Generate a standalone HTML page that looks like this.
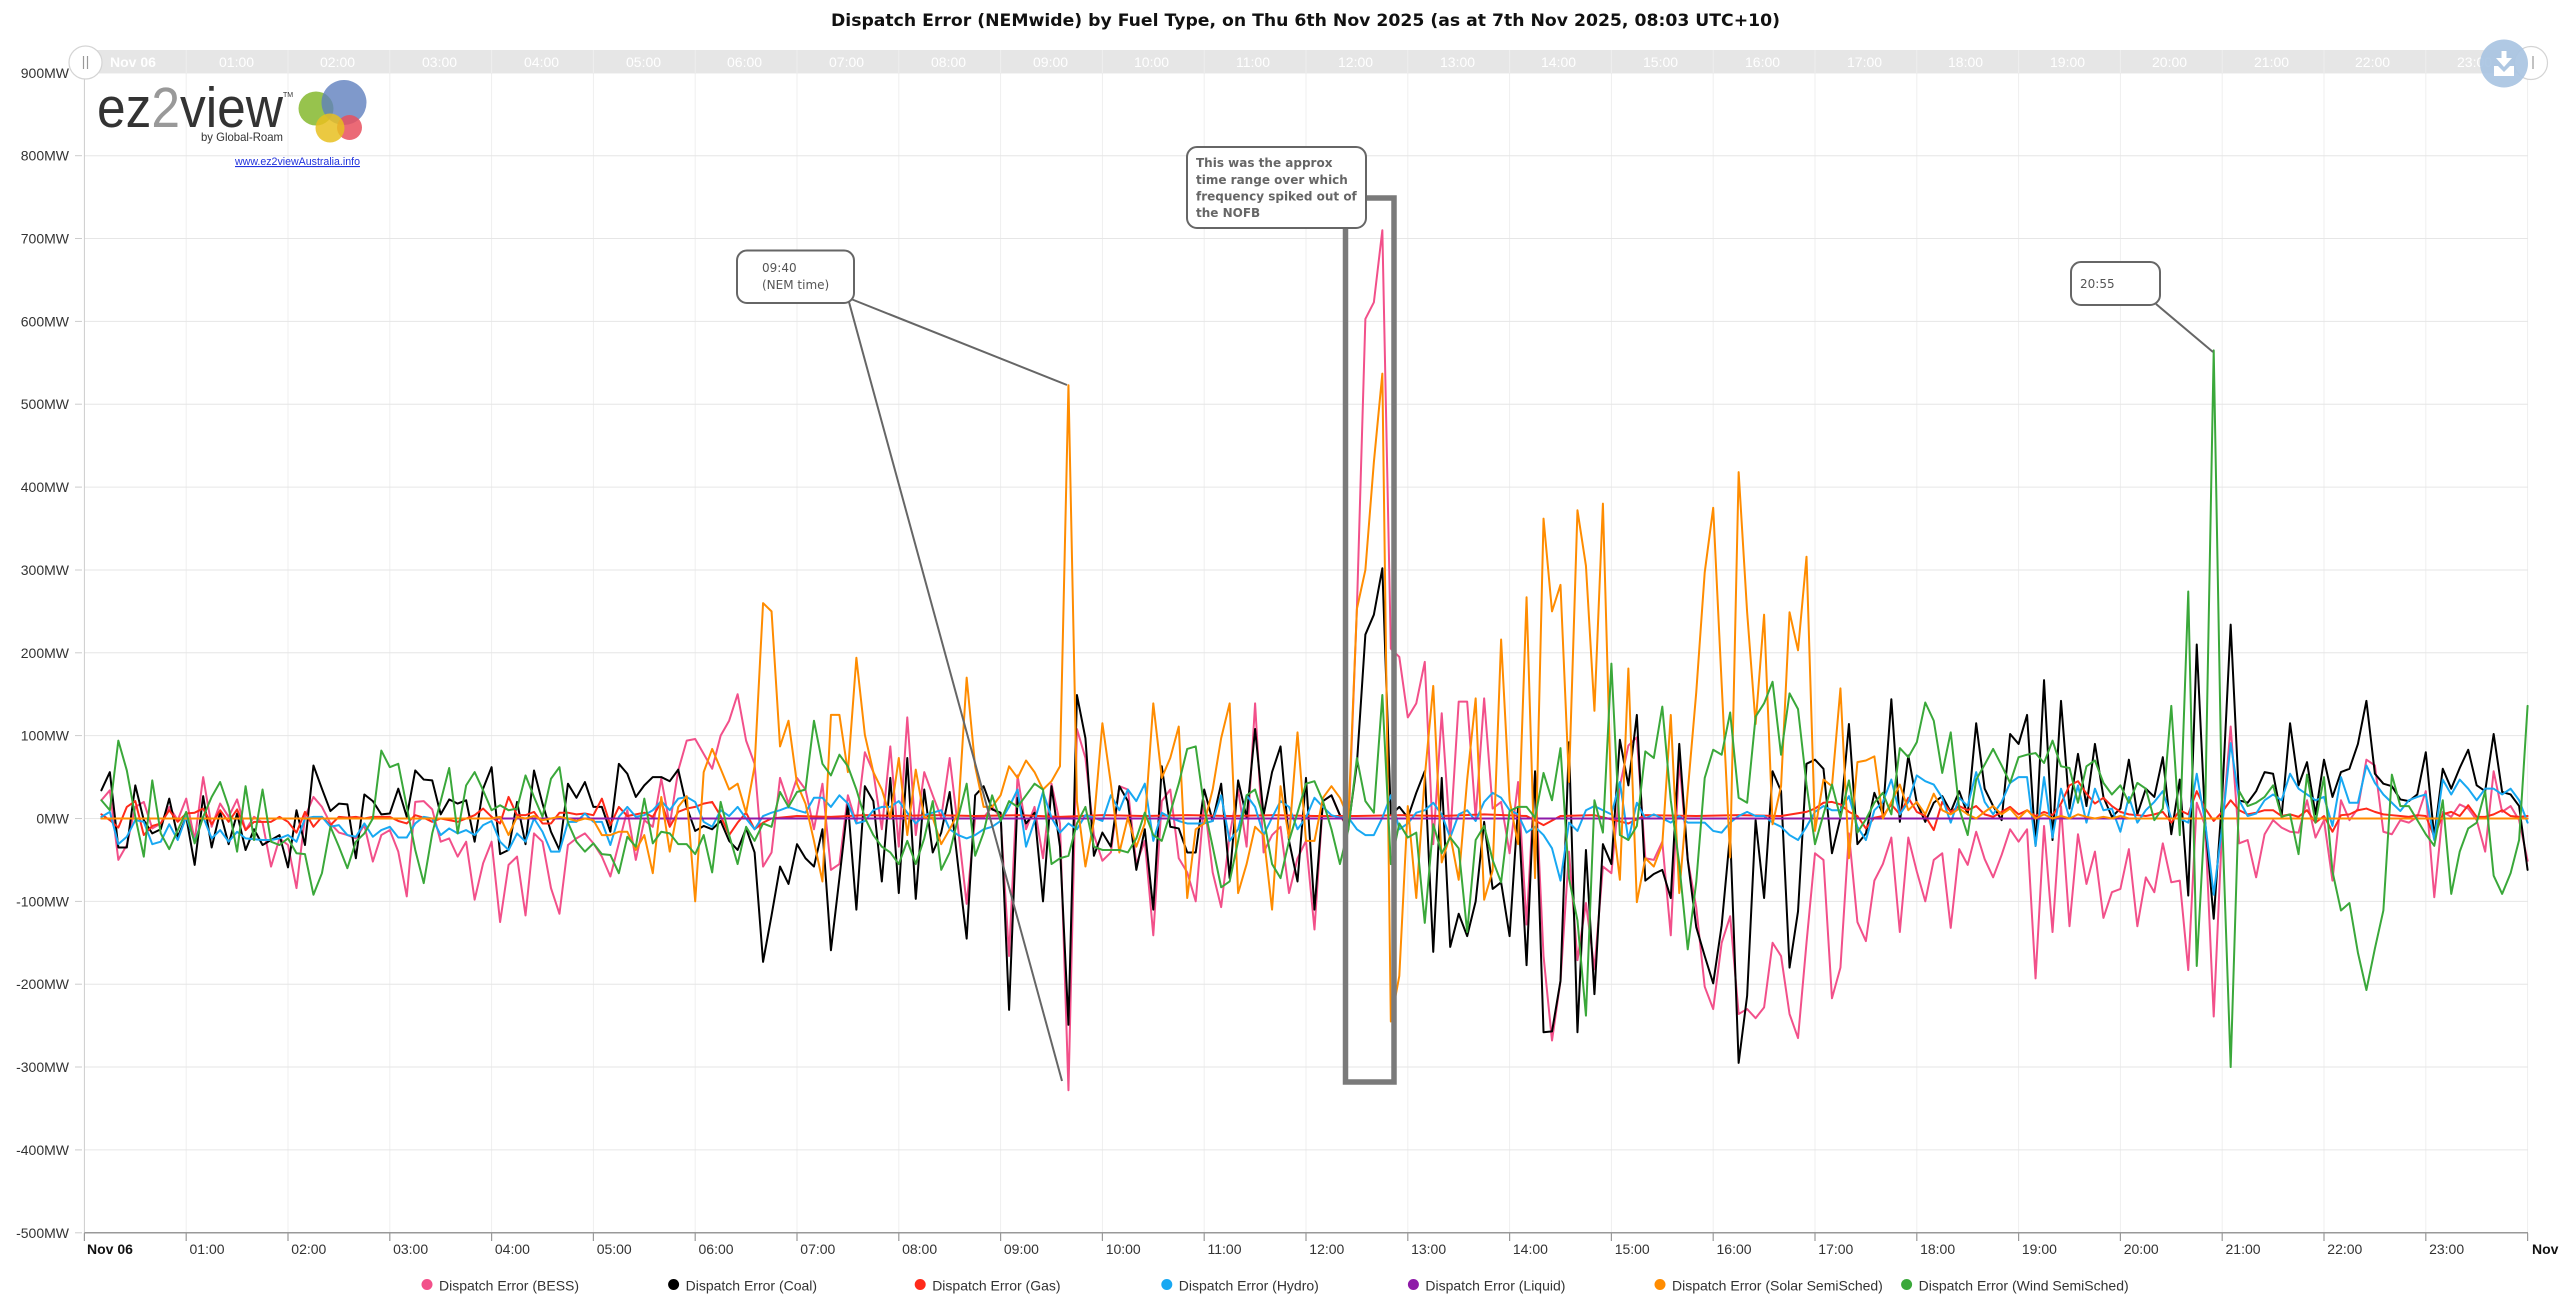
<!DOCTYPE html>
<html>
<head>
<meta charset="utf-8">
<style>
html,body{margin:0;padding:0;background:#fff;}
body{width:2560px;height:1309px;overflow:hidden;}
svg{display:block;}
.ax{font-family:"Liberation Sans",Arial,sans-serif;font-size:14px;fill:#333;}
.top{font-family:"Liberation Sans",Arial,sans-serif;font-size:14px;fill:#fff;}
.s{fill:none;stroke-width:2;stroke-linejoin:round;stroke-linecap:round;}
</style>
</head>
<body>
<svg width="2560" height="1309" viewBox="0 0 2560 1309" xmlns="http://www.w3.org/2000/svg">
<rect x="0" y="0" width="2560" height="1309" fill="#fff"/>

<!-- Title -->
<text x="831" y="26" font-family="DejaVu Sans, Liberation Sans, sans-serif" font-weight="bold" font-size="17" fill="#111" textLength="949" lengthAdjust="spacingAndGlyphs">Dispatch Error (NEMwide) by Fuel Type, on Thu 6th Nov 2025 (as at 7th Nov 2025, 08:03 UTC+10)</text>

<!-- vertical grid -->
<g stroke="#efefef" stroke-width="1">
<line x1="186.2" y1="73" x2="186.2" y2="1233"/><line x1="288" y1="73" x2="288" y2="1233"/><line x1="389.8" y1="73" x2="389.8" y2="1233"/><line x1="491.6" y1="73" x2="491.6" y2="1233"/><line x1="593.4" y1="73" x2="593.4" y2="1233"/><line x1="695.2" y1="73" x2="695.2" y2="1233"/><line x1="797" y1="73" x2="797" y2="1233"/><line x1="898.8" y1="73" x2="898.8" y2="1233"/><line x1="1000.6" y1="73" x2="1000.6" y2="1233"/><line x1="1102.4" y1="73" x2="1102.4" y2="1233"/><line x1="1204.2" y1="73" x2="1204.2" y2="1233"/><line x1="1306" y1="73" x2="1306" y2="1233"/><line x1="1407.8" y1="73" x2="1407.8" y2="1233"/><line x1="1509.6" y1="73" x2="1509.6" y2="1233"/><line x1="1611.4" y1="73" x2="1611.4" y2="1233"/><line x1="1713.2" y1="73" x2="1713.2" y2="1233"/><line x1="1815" y1="73" x2="1815" y2="1233"/><line x1="1916.8" y1="73" x2="1916.8" y2="1233"/><line x1="2018.6" y1="73" x2="2018.6" y2="1233"/><line x1="2120.4" y1="73" x2="2120.4" y2="1233"/><line x1="2222.2" y1="73" x2="2222.2" y2="1233"/><line x1="2324" y1="73" x2="2324" y2="1233"/><line x1="2425.8" y1="73" x2="2425.8" y2="1233"/><line x1="2527.6" y1="73" x2="2527.6" y2="1233"/>
</g>
<!-- horizontal grid -->
<g stroke="#e6e6e6" stroke-width="1">
<line x1="84.4" y1="72.85" x2="2528" y2="72.85"/><line x1="84.4" y1="155.7" x2="2528" y2="155.7"/><line x1="84.4" y1="238.5" x2="2528" y2="238.5"/><line x1="84.4" y1="321.4" x2="2528" y2="321.4"/><line x1="84.4" y1="404.2" x2="2528" y2="404.2"/><line x1="84.4" y1="487.1" x2="2528" y2="487.1"/><line x1="84.4" y1="570" x2="2528" y2="570"/><line x1="84.4" y1="652.8" x2="2528" y2="652.8"/><line x1="84.4" y1="735.6" x2="2528" y2="735.6"/><line x1="84.4" y1="818.5" x2="2528" y2="818.5"/><line x1="84.4" y1="901.4" x2="2528" y2="901.4"/><line x1="84.4" y1="984.2" x2="2528" y2="984.2"/><line x1="84.4" y1="1067" x2="2528" y2="1067"/><line x1="84.4" y1="1149.9" x2="2528" y2="1149.9"/>
</g>
<!-- y ticks -->
<g stroke="#ccc" stroke-width="1">
<line x1="75" y1="72.85" x2="82" y2="72.85"/><line x1="75" y1="155.7" x2="82" y2="155.7"/><line x1="75" y1="238.5" x2="82" y2="238.5"/><line x1="75" y1="321.4" x2="82" y2="321.4"/><line x1="75" y1="404.2" x2="82" y2="404.2"/><line x1="75" y1="487.1" x2="82" y2="487.1"/><line x1="75" y1="570" x2="82" y2="570"/><line x1="75" y1="652.8" x2="82" y2="652.8"/><line x1="75" y1="735.6" x2="82" y2="735.6"/><line x1="75" y1="818.5" x2="82" y2="818.5"/><line x1="75" y1="901.4" x2="82" y2="901.4"/><line x1="75" y1="984.2" x2="82" y2="984.2"/><line x1="75" y1="1067" x2="82" y2="1067"/><line x1="75" y1="1149.9" x2="82" y2="1149.9"/><line x1="75" y1="1232.8" x2="82" y2="1232.8"/>
</g>
<!-- y axis line -->
<line x1="84.4" y1="73" x2="84.4" y2="1233" stroke="#ccc" stroke-width="1"/>
<!-- y labels -->
<g class="ax" text-anchor="end">
<text x="69" y="77.8">900MW</text><text x="69" y="160.7">800MW</text><text x="69" y="243.5">700MW</text><text x="69" y="326.4">600MW</text><text x="69" y="409.2">500MW</text><text x="69" y="492.1">400MW</text><text x="69" y="575">300MW</text><text x="69" y="657.8">200MW</text><text x="69" y="740.6">100MW</text><text x="69" y="823.5">0MW</text><text x="69" y="906.4">-100MW</text><text x="69" y="989.2">-200MW</text><text x="69" y="1072">-300MW</text><text x="69" y="1154.9">-400MW</text><text x="69" y="1237.8">-500MW</text>
</g>

<!-- x axis -->
<line x1="84.4" y1="1232.8" x2="2528" y2="1232.8" stroke="#999" stroke-width="1.5"/>
<g stroke="#999" stroke-width="1.2">
<line x1="84.4" y1="1233" x2="84.4" y2="1241"/><line x1="186.2" y1="1233" x2="186.2" y2="1241"/><line x1="288" y1="1233" x2="288" y2="1241"/><line x1="389.8" y1="1233" x2="389.8" y2="1241"/><line x1="491.6" y1="1233" x2="491.6" y2="1241"/><line x1="593.4" y1="1233" x2="593.4" y2="1241"/><line x1="695.2" y1="1233" x2="695.2" y2="1241"/><line x1="797" y1="1233" x2="797" y2="1241"/><line x1="898.8" y1="1233" x2="898.8" y2="1241"/><line x1="1000.6" y1="1233" x2="1000.6" y2="1241"/><line x1="1102.4" y1="1233" x2="1102.4" y2="1241"/><line x1="1204.2" y1="1233" x2="1204.2" y2="1241"/><line x1="1306" y1="1233" x2="1306" y2="1241"/><line x1="1407.8" y1="1233" x2="1407.8" y2="1241"/><line x1="1509.6" y1="1233" x2="1509.6" y2="1241"/><line x1="1611.4" y1="1233" x2="1611.4" y2="1241"/><line x1="1713.2" y1="1233" x2="1713.2" y2="1241"/><line x1="1815" y1="1233" x2="1815" y2="1241"/><line x1="1916.8" y1="1233" x2="1916.8" y2="1241"/><line x1="2018.6" y1="1233" x2="2018.6" y2="1241"/><line x1="2120.4" y1="1233" x2="2120.4" y2="1241"/><line x1="2222.2" y1="1233" x2="2222.2" y2="1241"/><line x1="2324" y1="1233" x2="2324" y2="1241"/><line x1="2425.8" y1="1233" x2="2425.8" y2="1241"/><line x1="2527.6" y1="1233" x2="2527.6" y2="1241"/>
</g>
<g class="ax">
<text x="87" y="1254" font-weight="bold" fill="#111">Nov 06</text>
<text x="189.5" y="1254">01:00</text><text x="291.3" y="1254">02:00</text><text x="393.1" y="1254">03:00</text><text x="494.9" y="1254">04:00</text><text x="596.7" y="1254">05:00</text><text x="698.5" y="1254">06:00</text><text x="800.3" y="1254">07:00</text><text x="902.1" y="1254">08:00</text><text x="1003.9" y="1254">09:00</text><text x="1105.7" y="1254">10:00</text><text x="1207.5" y="1254">11:00</text><text x="1309.3" y="1254">12:00</text><text x="1411.1" y="1254">13:00</text><text x="1512.9" y="1254">14:00</text><text x="1614.7" y="1254">15:00</text><text x="1716.5" y="1254">16:00</text><text x="1818.3" y="1254">17:00</text><text x="1920.1" y="1254">18:00</text><text x="2021.9" y="1254">19:00</text><text x="2123.7" y="1254">20:00</text><text x="2225.5" y="1254">21:00</text><text x="2327.3" y="1254">22:00</text><text x="2429.1" y="1254">23:00</text>
<text x="2532" y="1254" font-weight="bold" fill="#111">Nov 07</text>
</g>

<!-- top navigator band -->
<rect x="84.4" y="50" width="2443.6" height="23.3" fill="#e6e6e6"/>
<g stroke="#efefef" stroke-width="1">
<line x1="186.2" y1="50" x2="186.2" y2="73"/><line x1="288" y1="50" x2="288" y2="73"/><line x1="389.8" y1="50" x2="389.8" y2="73"/><line x1="491.6" y1="50" x2="491.6" y2="73"/><line x1="593.4" y1="50" x2="593.4" y2="73"/><line x1="695.2" y1="50" x2="695.2" y2="73"/><line x1="797" y1="50" x2="797" y2="73"/><line x1="898.8" y1="50" x2="898.8" y2="73"/><line x1="1000.6" y1="50" x2="1000.6" y2="73"/><line x1="1102.4" y1="50" x2="1102.4" y2="73"/><line x1="1204.2" y1="50" x2="1204.2" y2="73"/><line x1="1306" y1="50" x2="1306" y2="73"/><line x1="1407.8" y1="50" x2="1407.8" y2="73"/><line x1="1509.6" y1="50" x2="1509.6" y2="73"/><line x1="1611.4" y1="50" x2="1611.4" y2="73"/><line x1="1713.2" y1="50" x2="1713.2" y2="73"/><line x1="1815" y1="50" x2="1815" y2="73"/><line x1="1916.8" y1="50" x2="1916.8" y2="73"/><line x1="2018.6" y1="50" x2="2018.6" y2="73"/><line x1="2120.4" y1="50" x2="2120.4" y2="73"/><line x1="2222.2" y1="50" x2="2222.2" y2="73"/><line x1="2324" y1="50" x2="2324" y2="73"/><line x1="2425.8" y1="50" x2="2425.8" y2="73"/>
</g>
<g class="top">
<text x="110" y="67" font-weight="bold">Nov 06</text>
<text x="219" y="67">01:00</text><text x="320" y="67">02:00</text><text x="422" y="67">03:00</text><text x="524" y="67">04:00</text><text x="626" y="67">05:00</text><text x="727" y="67">06:00</text><text x="829" y="67">07:00</text><text x="931" y="67">08:00</text><text x="1033" y="67">09:00</text><text x="1134" y="67">10:00</text><text x="1236" y="67">11:00</text><text x="1338" y="67">12:00</text><text x="1440" y="67">13:00</text><text x="1541" y="67">14:00</text><text x="1643" y="67">15:00</text><text x="1745" y="67">16:00</text><text x="1847" y="67">17:00</text><text x="1948" y="67">18:00</text><text x="2050" y="67">19:00</text><text x="2152" y="67">20:00</text><text x="2254" y="67">21:00</text><text x="2355" y="67">22:00</text><text x="2457" y="67">23:00</text>
</g>

<!-- logo -->
<g>
<text x="97" y="127" font-family="Liberation Sans, Arial, sans-serif" font-size="57" fill="#333" textLength="186" lengthAdjust="spacingAndGlyphs">ez<tspan fill="#999">2</tspan>view</text>
<text x="283" y="97" font-family="Liberation Sans, Arial, sans-serif" font-size="7" fill="#333">TM</text>
<text x="201" y="141" font-family="Liberation Sans, Arial, sans-serif" font-size="12" fill="#333" textLength="82" lengthAdjust="spacingAndGlyphs">by Global-Roam</text>
<ellipse cx="316" cy="108.5" rx="17.5" ry="17" fill="#8cbd3a" opacity="0.9"/>
<circle cx="344" cy="102.5" r="22.5" fill="#5f7fbe" opacity="0.8"/>
<circle cx="349.5" cy="127.5" r="12.5" fill="#e8505e" opacity="0.85"/>
<circle cx="330" cy="128" r="14.5" fill="#e8c020" opacity="0.85"/>
<text x="235" y="165" font-family="Liberation Sans, Arial, sans-serif" font-size="11" fill="#2233dd" text-decoration="underline" textLength="125" lengthAdjust="spacingAndGlyphs">www.ez2viewAustralia.info</text>
</g>

<!-- series -->
<g transform="translate(84.4,818.5) scale(8.4833,-0.8285)">
<polyline class="s" vector-effect="non-scaling-stroke" stroke="#f2508a" points="2,22 3,34 4,-50 5,-32 6,14 7,20 8,-12 9,-6 10,14 11,-2 12,24 13,-26 14,50 15,-10 16,18 17,2 18,23 19,-14 20,2 21,-5 22,-58 23,-24 24,-32 25,-84 26,2 27,26 28,14 29,-6 30,-17 31,-20 32,-24 33,-8 34,-52 35,-20 36,-14 37,-40 38,-94 39,20 40,21 41,11 42,-28 43,-24 44,-46 45,-28 46,-98 47,-54 48,-28 49,-125 50,-56 51,-46 52,-117 53,-18 54,-28 55,-84 56,-115 57,-32 58,-24 59,-18 60,-30 61,-46 62,-70 63,-30 64,10 65,-50 66,-2 67,-10 68,48 69,-8 70,58 71,94 72,96 73,78 74,60 75,100 76,118 77,150 78,94 79,66 80,-58 81,-41 82,49 83,18 84,49 85,35 86,-13 87,42 88,-62 89,-55 90,28 91,-6 92,80 93,56 94,-13 95,87 96,-34 97,122 98,-20 99,56 100,28 101,1 102,73 103,-13 104,-103 105,1 106,1 107,14 108,1 109,-166 110,52 111,-13 112,14 113,-48 114,42 115,-6 116,-328 117,108 118,73 119,-20 120,-51 121,-41 122,39 123,35 124,-55 125,-27 126,-141 127,21 128,35 129,-48 130,-65 131,-100 132,21 133,-65 134,-107 135,-20 136,35 137,-34 138,139 139,-41 140,-20 141,-10 142,-90 143,-48 144,-27 145,-134 146,21 147,28 148,4 149,-13 150,253 151,603 152,623 153,710 154,205 155,195 156,122 157,139 158,189 159,-31 160,127 161,-23 162,141 163,141 164,1 165,145 166,12 167,20 168,-42 169,44 170,-128 171,55 172,-166 173,-268 174,-196 175,-40 176,-171 177,-102 178,-182 179,-58 180,-66 181,39 182,88 183,98 184,-48 185,-50 186,-28 187,-141 188,71 189,-50 190,-107 191,-203 192,-230 193,-150 194,-118 195,-236 196,-230 197,-241 198,-228 199,-150 200,-166 201,-236 202,-265 203,-150 204,-42 205,-50 206,-217 207,-180 208,-18 209,-125 210,-148 211,-75 212,-55 213,-23 214,-137 215,-23 216,-64 217,-100 218,-50 219,-42 220,-132 221,-37 222,-56 223,-16 224,-49 225,-71 226,-44 227,-13 228,-28 229,-13 230,-193 231,-9 232,-137 233,15 234,-130 235,-19 236,-79 237,-40 238,-120 239,-89 240,-85 241,-37 242,-130 243,-71 244,-89 245,-30 246,-77 247,-75 248,-183 249,19 250,-9 251,-239 252,-9 253,111 254,-30 255,-26 256,-71 257,-19 258,-2 259,-11 260,-16 261,-17 262,22 263,-23 264,-2 265,-75 266,22 267,-2 268,12 269,71 270,64 271,-16 272,-19 273,-2 274,-5 275,2 276,33 277,-95 278,8 279,2 280,17 281,12 282,-2 283,-40 284,57 285,8 286,15 287,-2 288,-51"/>
<polyline class="s" vector-effect="non-scaling-stroke" stroke="#000" stroke-width="2.2" points="2,34 3,56 4,-35 5,-35 6,40 7,-2 8,-18 9,-13 10,24 11,-22 12,2 13,-56 14,27 15,-35 16,8 17,-31 18,6 19,-38 20,-13 21,-32 22,-26 23,-20 24,-59 25,10 26,-32 27,64 28,36 29,9 30,18 31,17 32,-48 33,29 34,21 35,5 36,6 37,36 38,2 39,58 40,47 41,46 42,5 43,23 44,18 45,22 46,-28 47,36 48,62 49,-43 50,-38 51,20 52,-31 53,58 54,18 55,-16 56,-38 57,42 58,25 59,44 60,14 61,14 62,-16 63,66 64,54 65,26 66,40 67,50 68,50 69,45 70,59 71,14 72,-15 73,-9 74,-13 75,-3 76,-27 77,-38 78,-12 79,-41 80,-173 81,-117 82,-58 83,-79 84,-31 85,-48 86,-58 87,-13 88,-159 89,-72 90,18 91,-110 92,39 93,21 94,-76 95,49 96,-90 97,73 98,-97 99,35 100,-41 101,-17 102,32 103,-58 104,-145 105,28 106,39 107,11 108,7 109,-231 110,25 111,-6 112,7 113,-100 114,39 115,-34 116,-249 117,149 118,97 119,-45 120,-17 121,-34 122,39 123,21 124,-62 125,-13 126,-110 127,63 128,-10 129,-12 130,-41 131,-41 132,35 133,-3 134,42 135,-72 136,46 137,1 138,108 139,4 140,56 141,87 142,-27 143,-76 144,49 145,-110 146,21 147,28 148,4 149,-10 150,66 151,222 152,246 153,302 154,4 155,14 156,1 157,31 158,57 159,-161 160,49 161,-155 162,-115 163,-142 164,-100 165,-4 166,-85 167,-77 168,-142 169,14 170,-177 171,57 172,-258 173,-257 174,-196 175,92 176,-258 177,-38 178,-212 179,-31 180,-55 181,95 182,40 183,125 184,-75 185,-67 186,-62 187,-96 188,90 189,-50 190,-131 191,-166 192,-199 193,-129 194,-18 195,-295 196,-214 197,-2 198,-96 199,57 200,33 201,-180 202,-112 203,66 204,71 205,60 206,-42 207,1 208,114 209,-31 210,-18 211,31 212,5 213,144 214,-4 215,76 216,19 217,-4 218,19 219,27 220,8 221,33 222,5 223,115 224,36 225,15 226,-2 227,102 228,90 229,125 230,-33 231,167 232,-26 233,142 234,12 235,78 236,15 237,90 238,26 239,2 240,12 241,71 242,5 243,36 244,26 245,74 246,-19 247,47 248,-93 249,210 250,-5 251,-121 252,26 253,234 254,22 255,19 256,33 257,56 258,54 259,2 260,115 261,40 262,68 263,5 264,71 265,26 266,56 267,60 268,90 269,142 270,54 271,42 272,39 273,23 274,21 275,29 276,80 277,-22 278,60 279,36 280,61 281,83 282,40 283,33 284,102 285,32 286,29 287,15 288,-62"/>
<polyline class="s" vector-effect="non-scaling-stroke" stroke="#ff2a1a" points="2,5 3,-2 4,-11 5,14 6,21 7,-20 8,-9 9,-6 10,10 11,-4 12,6 13,7 14,12 15,-7 16,10 17,-4 18,11 19,-14 20,-4 21,-4 22,-4 23,2 24,-4 25,-17 26,8 27,-10 28,2 29,-8 30,2 31,1 32,2 33,0 34,2 35,2 36,2 37,-3 38,-6 39,4 40,1 41,-4 42,0 43,-2 44,-4 45,0 46,4 47,12 48,2 49,-6 50,26 51,4 52,4 53,8 54,-6 55,-6 56,7 57,7 58,5 59,6 60,4 61,24 62,-8 63,14 64,3 65,5 66,7 67,2 68,20 69,-10 70,8 71,12 72,14 73,18 74,20 75,3 76,-20 77,-5 78,7 79,-13 80,-5 81,0 84,3 88,2 92,4 96,3 100,4 105,3 110,4 115,2 120,4 125,3 130,4 135,3 140,4 145,3 150,3 155,4 160,3 165,5 170,3 172,-8 174,3 178,4 182,-6 184,4 190,3 195,4 200,3 203,8 204,12 205,19 206,20 207,17 208,8 209,3 210,-12 211,1 212,3 213,17 214,5 215,25 216,8 217,3 218,-14 219,20 220,8 221,15 222,10 223,15 224,5 225,2 226,8 227,14 228,5 229,10 230,3 231,8 232,4 233,18 234,40 235,45 236,30 237,18 238,25 239,15 240,8 241,5 242,4 243,3 244,5 245,8 246,-5 247,10 248,5 249,33 250,12 251,-3 252,8 253,22 254,10 255,5 256,7 257,10 258,10 259,3 260,5 261,2 262,10 263,-5 264,3 265,-16 266,4 267,5 268,10 269,12 270,8 271,5 272,4 273,3 274,2 275,4 276,3 277,-22 278,5 279,8 280,3 281,16 282,2 283,2 284,5 285,10 286,3 287,2 288,3"/>
<polyline class="s" vector-effect="non-scaling-stroke" stroke="#18a8f2" points="2,2 3,8 4,-31 5,-22 6,-2 7,-4 8,-31 9,-28 10,-7 11,-26 12,2 13,-28 14,2 15,-24 16,-14 17,-28 18,-16 19,-24 20,-25 21,-26 22,-26 23,-24 24,-20 25,-28 26,0 27,2 28,2 29,-10 30,-8 31,-20 32,-22 33,-6 34,-22 35,-14 36,-10 37,-23 38,-23 39,-6 40,2 41,0 42,-20 43,-12 44,-18 45,-14 46,-20 47,-8 48,-3 49,-28 50,-38 51,-18 52,-28 53,0 54,-16 55,-40 56,-40 57,-4 58,-4 59,6 60,-4 61,-4 62,-32 63,2 64,14 65,2 66,4 67,10 68,21 69,10 70,24 71,26 72,20 73,-4 74,-10 75,10 76,3 77,14 78,0 79,-13 80,3 81,7 82,10 83,14 84,10 85,7 86,25 87,25 88,14 89,28 90,18 91,-6 92,-3 93,10 94,14 95,14 96,21 97,7 98,-6 99,4 100,7 101,10 102,-13 103,-20 104,-24 105,-20 106,-13 107,-10 108,-3 109,14 110,35 111,-34 112,-3 113,32 114,1 115,-17 116,-6 117,-13 118,4 119,1 120,-3 121,28 122,10 123,35 124,21 125,42 126,-27 127,7 128,1 129,-3 130,-6 131,-6 132,-6 133,-3 134,28 135,-27 136,-13 137,28 138,14 139,-20 140,1 141,21 142,14 143,-13 144,1 145,25 146,14 147,4 148,1 149,1 150,-13 151,-20 152,-20 153,1 154,28 155,-13 156,-6 157,7 158,10 159,19 160,5 161,-23 162,5 163,10 164,-3 165,20 166,31 167,25 168,10 169,5 170,-17 171,-10 172,-20 173,-36 174,-75 175,-5 176,-15 177,10 178,15 179,10 180,5 181,44 182,-26 183,19 184,0 185,5 186,0 187,-5 188,3 189,-5 190,-5 191,-5 192,-15 193,-17 194,-5 195,3 196,8 197,3 198,3 199,-5 200,-10 201,-20 202,-26 203,-10 204,8 205,15 206,10 207,10 208,27 209,-10 210,-26 211,10 212,20 213,47 214,5 215,20 216,52 217,45 218,41 219,25 220,-5 221,25 222,15 223,56 224,20 225,5 226,20 227,43 228,50 229,50 230,-33 231,50 232,-23 233,36 234,0 235,40 236,-5 237,36 238,10 239,12 240,-16 241,26 242,-5 243,10 244,20 245,33 246,0 247,0 248,-5 249,54 250,-5 251,-92 252,-9 253,91 254,22 255,3 256,6 257,22 258,29 259,22 260,54 261,36 262,29 263,22 264,26 265,-9 266,50 267,19 268,19 269,64 270,43 271,29 272,19 273,9 274,22 275,26 276,29 277,-26 278,47 279,29 280,47 281,36 282,22 283,36 284,36 285,29 286,36 287,22 288,-5"/>
<polyline class="s" vector-effect="non-scaling-stroke" stroke="#8e1aa8" points="2,0 288,0"/>
<polyline class="s" vector-effect="non-scaling-stroke" stroke="#ff8c00" points="2,0 48,0 49,2 50,-20 51,2 52,0 53,3 54,-2 55,0 56,2 57,0 58,-3 59,0 60,-2 61,-20 62,-20 63,-16 64,-16 65,-38 66,-20 67,-66 68,26 69,-40 70,14 71,27 72,-100 73,56 74,84 75,60 76,35 77,42 78,7 79,63 80,260 81,250 82,87 83,118 84,42 85,18 86,-27 87,-76 88,125 89,125 90,56 91,194 92,101 93,56 94,35 95,1 96,73 97,-20 98,59 99,1 100,1 101,-31 102,-13 103,7 104,170 105,63 106,14 107,14 108,28 109,63 110,49 111,70 112,56 113,35 114,45 115,63 116,523 117,21 118,-58 119,-3 120,115 121,42 122,-41 123,1 124,-34 125,-6 126,139 127,49 128,73 129,111 130,-96 131,-13 132,-6 133,35 134,97 135,139 136,-90 137,-55 138,-10 139,-20 140,-110 141,39 142,-24 143,104 144,-27 145,-27 146,25 147,39 148,25 149,1 150,253 151,300 152,430 153,537 154,-245 155,-190 156,15 157,-96 158,50 159,160 160,-53 161,-20 162,-74 163,47 164,145 165,-98 166,-63 167,216 168,22 169,-31 170,267 171,-72 172,362 173,250 174,282 175,44 176,372 177,305 178,130 179,380 180,12 181,-74 182,181 183,-101 184,-48 185,-58 186,-31 187,125 188,-90 189,33 190,152 191,297 192,375 193,162 194,-47 195,418 196,249 197,114 198,246 199,-7 200,39 201,249 202,203 203,316 204,-15 205,47 206,39 207,157 208,-48 209,68 210,70 211,75 212,0 213,20 214,41 215,10 216,20 217,5 218,30 219,10 220,5 221,12 222,5 223,0 224,8 225,15 226,5 227,12 228,0 229,10 230,0 231,5 232,0 233,3 234,0 235,5 236,2 237,0 238,2 239,0 240,3 241,0 288,0"/>
<polyline class="s" vector-effect="non-scaling-stroke" stroke="#3aa83a" points="2,22 3,10 4,94 5,58 6,2 7,-46 8,46 9,-18 10,-37 11,-14 12,8 13,-30 14,2 15,26 16,44 17,14 18,-40 19,39 20,-26 21,35 22,-28 23,-32 24,-24 25,-42 26,-43 27,-92 28,-66 29,-10 30,-34 31,-60 32,-28 33,-18 34,0 35,82 36,62 37,66 38,14 39,-38 40,-78 41,-18 42,21 43,61 44,-18 45,40 46,56 47,34 48,10 49,16 50,10 51,12 52,52 53,26 54,2 55,48 56,62 57,-5 58,-28 59,-40 60,-30 61,-43 62,-44 63,-66 64,-22 65,-34 66,24 67,-30 68,-16 69,-18 70,-31 71,-31 72,-43 73,-20 74,-65 75,20 76,-20 77,-55 78,-10 79,-27 80,-6 81,-10 82,32 83,14 84,32 85,35 86,118 87,66 88,52 89,77 90,63 91,35 92,1 93,-20 94,-34 95,-41 96,-55 97,-27 98,-55 99,-24 100,21 101,-62 102,-41 103,1 104,42 105,-45 106,-17 107,28 108,-3 109,21 110,14 111,28 112,42 113,35 114,-55 115,-48 116,-45 117,-6 118,14 119,-34 120,-38 121,-38 122,-38 123,-41 124,-24 125,7 126,-20 127,-27 128,7 129,42 130,84 131,87 132,14 133,-34 134,-83 135,-76 136,-27 137,28 138,35 139,1 140,-55 141,-72 142,-27 143,7 144,42 145,45 146,21 147,-13 148,-55 149,-13 150,73 151,21 152,7 153,149 154,-55 155,-6 156,-23 157,-17 158,-126 159,-7 160,-42 161,-23 162,-36 163,-137 164,-26 165,-9 166,-50 167,-77 168,9 169,14 170,14 171,1 172,55 173,22 174,85 175,-72 176,-123 177,-238 178,22 179,-17 180,187 181,-20 182,-26 183,-9 184,81 185,73 186,135 187,22 188,-55 189,-158 190,-77 191,49 192,83 193,77 194,128 195,25 196,19 197,123 198,139 199,165 200,77 201,151 202,132 203,41 204,-31 205,5 206,41 207,1 208,46 209,-17 210,-1 211,19 212,31 213,5 214,85 215,74 216,92 217,140 218,118 219,55 220,104 221,12 222,-20 223,47 224,65 225,84 226,64 227,43 228,74 229,77 230,79 231,67 232,94 233,63 234,61 235,19 236,63 237,70 238,43 239,29 240,40 241,19 242,43 243,36 244,-2 245,12 246,136 247,-20 248,274 249,-178 250,12 251,565 252,-2 253,-300 254,33 255,15 256,19 257,26 258,40 259,2 260,5 261,-43 262,53 263,-5 264,50 265,-64 266,-111 267,-102 268,-162 269,-207 270,-157 271,-111 272,53 273,15 274,15 275,-2 276,-19 277,-33 278,22 279,-91 280,-40 281,-12 282,-5 283,33 284,-69 285,-91 286,-66 287,-26 288,136"/>
</g>

<!-- NOFB rectangle -->
<rect x="1345.5" y="198" width="48.5" height="884" fill="none" stroke="#7a7a7a" stroke-width="5.5"/>

<!-- callout lines -->
<g stroke="#666" stroke-width="2" fill="none">
<line x1="851" y1="299" x2="1067" y2="385"/>
<line x1="849" y1="302" x2="1062" y2="1081"/>
<line x1="2156" y1="304" x2="2213" y2="352"/>
</g>

<!-- callout boxes -->
<rect x="737" y="250.5" width="117" height="52.5" rx="10" fill="#fff" stroke="#666" stroke-width="2"/>
<text x="762" y="272" font-family="DejaVu Sans, Liberation Sans, sans-serif" font-size="12" fill="#555">09:40</text>
<text x="762" y="289" font-family="DejaVu Sans, Liberation Sans, sans-serif" font-size="12" fill="#555">(NEM time)</text>

<rect x="2071" y="262" width="89" height="43" rx="10" fill="#fff" stroke="#666" stroke-width="2"/>
<text x="2080" y="288" font-family="DejaVu Sans, Liberation Sans, sans-serif" font-size="12" fill="#555">20:55</text>

<rect x="1187" y="147" width="179" height="81" rx="10" fill="#fff" stroke="#666" stroke-width="2"/>
<g font-family="DejaVu Sans, Liberation Sans, sans-serif" font-size="12" font-weight="bold" fill="#666">
<text x="1196" y="167">This was the approx</text>
<text x="1196" y="184">time range over which</text>
<text x="1196" y="200.5">frequency spiked out of</text>
<text x="1196" y="217">the NOFB</text>
</g>

<!-- navigator handles & export button -->
<circle cx="85.5" cy="62.5" r="16.5" fill="#fff" stroke="#d4d4d4" stroke-width="1.2"/>
<line x1="83.5" y1="56" x2="83.5" y2="69" stroke="#999" stroke-width="1.2"/>
<line x1="87.5" y1="56" x2="87.5" y2="69" stroke="#999" stroke-width="1.2"/>
<circle cx="2531" cy="63" r="16.5" fill="#fff" stroke="#d4d4d4" stroke-width="1.2"/>
<line x1="2533" y1="56" x2="2533" y2="69" stroke="#999" stroke-width="1.2"/>
<circle cx="2504" cy="63.5" r="24" fill="#a9c4e2" opacity="0.92"/>
<rect x="2501.5" y="51" width="5" height="8" fill="#fff"/>
<polygon points="2496,58 2512,58 2504,67" fill="#fff"/>
<polygon points="2494,66 2498,66 2504,72 2510,66 2514,66 2514,76 2494,76" fill="#fff"/>

<!-- legend -->
<g class="ax">
<circle cx="427" cy="1284.5" r="5.5" fill="#f2508a"/><text x="439" y="1290.5">Dispatch Error (BESS)</text>
<circle cx="673.6" cy="1284.5" r="5.5" fill="#000"/><text x="685.6" y="1290.5">Dispatch Error (Coal)</text>
<circle cx="920.2" cy="1284.5" r="5.5" fill="#ff2a1a"/><text x="932.2" y="1290.5">Dispatch Error (Gas)</text>
<circle cx="1166.8" cy="1284.5" r="5.5" fill="#18a8f2"/><text x="1178.8" y="1290.5">Dispatch Error (Hydro)</text>
<circle cx="1413.4" cy="1284.5" r="5.5" fill="#8e1aa8"/><text x="1425.4" y="1290.5">Dispatch Error (Liquid)</text>
<circle cx="1660" cy="1284.5" r="5.5" fill="#ff8c00"/><text x="1672" y="1290.5">Dispatch Error (Solar SemiSched)</text>
<circle cx="1906.6" cy="1284.5" r="5.5" fill="#3aa83a"/><text x="1918.6" y="1290.5">Dispatch Error (Wind SemiSched)</text>
</g>
</svg>
</body>
</html>
